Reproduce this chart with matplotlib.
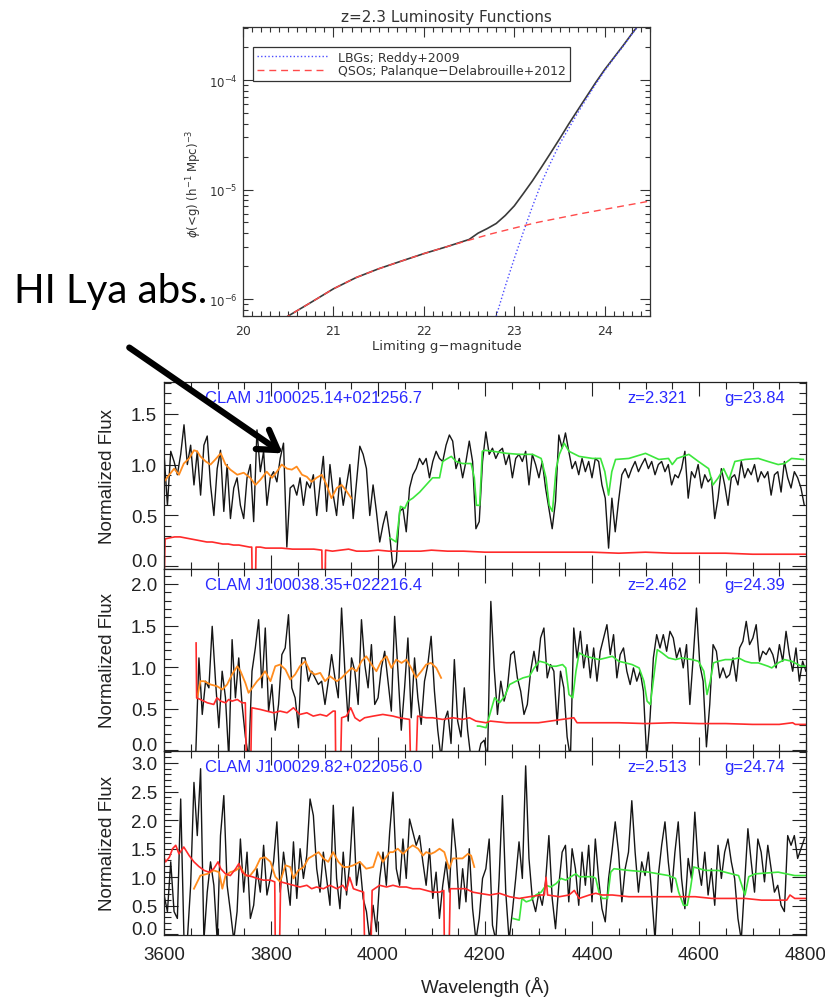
import numpy as np
import matplotlib
matplotlib.use("Agg")
import matplotlib.pyplot as plt
from matplotlib.patches import FancyArrowPatch
from matplotlib.ticker import MultipleLocator, LogLocator, NullFormatter, FormatStrFormatter

# ---------------- top panel: z=2.3 luminosity functions ----------------
MAG_QSO = [20.45, 20.5, 20.75, 21.0, 21.25, 21.5, 21.75, 22.0, 22.25, 22.5,
           22.75, 23.0, 23.25, 23.5, 23.75, 24.0, 24.25, 24.5]
PHI_QSO = [6.6e-7, 7.0e-7, 9.3e-7, 1.24e-6, 1.57e-6, 1.89e-6, 2.22e-6, 2.6e-6,
           3.0e-6, 3.45e-6, 3.95e-6, 4.45e-6, 5.0e-6, 5.5e-6, 6.05e-6, 6.6e-6,
           7.2e-6, 7.85e-6]

MAG_LBG = [22.78, 22.8, 22.9, 23.0, 23.1, 23.2, 23.3, 23.4, 23.5, 23.6, 23.7,
           23.8, 23.9, 24.0, 24.1, 24.2, 24.3, 24.4]
PHI_LBG = [6.5e-7, 7.0e-7, 1.31e-6, 2.35e-6, 4.1e-6, 7.0e-6, 1.15e-5, 1.75e-5,
           2.6e-5, 3.6e-5, 5.0e-5, 6.8e-5, 9.2e-5, 1.22e-4, 1.58e-4, 2.02e-4,
           2.62e-4, 3.37e-4]

MAG_TOT = [20.45, 20.5, 20.75, 21.0, 21.25, 21.5, 21.75, 22.0, 22.25, 22.5, 22.6,
           22.7, 22.8, 22.9, 23.0, 23.1, 23.2, 23.3, 23.4, 23.5, 23.6, 23.7, 23.8,
           23.9, 24.0, 24.1, 24.2, 24.3, 24.4]
PHI_TOT = [6.6e-7, 7.0e-7, 9.3e-7, 1.24e-6, 1.57e-6, 1.89e-6, 2.22e-6, 2.6e-6,
           3.0e-6, 3.5e-6, 4.0e-6, 4.4e-6, 4.9e-6, 5.8e-6, 7.1e-6, 9.2e-6, 1.2e-5,
           1.6e-5, 2.15e-5, 2.9e-5, 3.95e-5, 5.3e-5, 7.1e-5, 9.5e-5, 1.25e-4,
           1.6e-4, 2.05e-4, 2.65e-4, 3.4e-4]

# ---------------- spectra (black = observed, sampled every 6.2 A) ----------------
SPEC_STEP = 6.2

SPEC1_START = 3594.0
SPEC1_FLUX = [
    0.87, 1.10, 0.60, 1.13, 1.03, 0.90, 1.10, 1.39, 1.00, 1.19,
    0.80, 1.13, 0.70, 1.19, 1.28, 0.80, 0.50, 0.96, 1.14, 0.54,
    1.00, 0.47, 0.77, 0.87, 0.60, 0.47, 0.87, 1.00, 0.44, 1.34,
    0.93, 1.13, 0.60, 0.87, 0.93, 0.83, 1.06, 1.21, 0.19, 0.77,
    0.80, 0.70, 0.87, 0.60, 0.83, 0.77, 0.90, 0.50, 0.80, 1.08,
    0.54, 1.00, 0.70, 0.50, 0.87, 0.60, 0.80, 1.00, 0.47, 0.83,
    1.18, 1.10, 0.96, 0.50, 0.80, 0.54, 0.24, 0.41, 0.54, 0.31,
    -0.02, 0.05, 0.54, 0.57, 0.34, 0.77, 0.90, 0.96, 1.06, 1.00,
    1.06, 0.87, 1.03, 1.13, 1.06, 1.03, 1.19, 1.29, 1.23, 0.96,
    1.06, 0.87, 1.03, 1.23, 1.03, 0.37, 0.44, 1.03, 1.32,
    1.10, 1.16, 1.06, 1.13, 1.16, 1.00, 1.10, 0.87, 1.06, 1.10,
    1.03, 1.13, 0.80, 1.10, 1.00, 0.87, 1.03, 0.77, 0.57, 0.37,
    0.64, 1.29, 1.16, 1.31, 1.13, 0.96, 1.03, 0.90, 1.06, 0.93,
    1.03, 0.87, 1.06, 1.03, 0.80, 0.67, 0.18, 0.67, 0.34, 0.64,
    0.90, 0.96, 0.87, 0.96, 1.03, 0.93, 1.00, 1.06, 0.96, 1.03,
    0.90, 1.00, 1.03, 0.93, 1.00, 0.80, 0.90, 0.87, 0.96, 1.13,
    0.67, 0.93, 0.87, 1.00, 0.77, 0.90, 0.83, 0.87, 0.47, 0.67,
    0.96, 0.80, 0.60, 0.87, 0.90, 0.80, 1.03, 0.87, 0.96, 0.90,
    1.00, 0.83, 0.93, 0.87, 0.93, 0.70, 0.90, 0.93, 0.73, 1.03,
    0.87, 0.77, 0.93, 0.87, 0.77, 0.60,
]
ORANGE1_WL = [3600, 3610, 3619, 3628, 3637, 3647, 3656, 3662, 3668, 3678, 3687,
              3696, 3706, 3715, 3724, 3737, 3749, 3761, 3771, 3780, 3792, 3802,
              3811, 3820, 3830, 3839, 3848, 3858, 3867, 3876, 3885, 3895, 3904,
              3913, 3923, 3932, 3941, 3950]
ORANGE1_FLUX = [0.83, 0.90, 0.96, 0.90, 1.01, 1.06, 1.14, 1.13, 1.08, 1.03, 1.00,
                1.05, 1.11, 1.00, 0.95, 0.90, 0.92, 0.87, 0.80, 0.85, 0.93, 0.87,
                0.93, 1.00, 0.96, 0.95, 0.98, 0.90, 0.88, 0.83, 0.87, 0.90, 0.80,
                0.67, 0.77, 0.80, 0.74, 0.67]
GREEN1_WL = [4022, 4034, 4042, 4050, 4056, 4065, 4078, 4090, 4102, 4115, 4121,
             4127, 4137, 4146, 4158, 4174, 4180, 4184, 4190, 4195, 4199, 4215,
             4240, 4264, 4289, 4305, 4314, 4320, 4326, 4333, 4339, 4348, 4357,
             4376, 4401, 4416, 4424, 4431, 4437, 4444, 4469, 4500, 4525, 4543,
             4550, 4559, 4581, 4599, 4618, 4626, 4636, 4646, 4656, 4667, 4686,
             4711, 4729, 4748, 4760, 4773, 4795]
GREEN1_FLUX = [0.28, 0.24, 0.59, 0.57, 0.64, 0.67, 0.73, 0.80, 0.87, 0.87, 1.03,
               1.05, 1.08, 1.03, 1.01, 1.01, 0.87, 0.60, 0.60, 1.13, 1.14, 1.13,
               1.11, 1.10, 1.10, 1.06, 0.87, 0.60, 0.54, 0.96, 1.10, 1.21, 1.13,
               1.08, 1.06, 1.06, 0.93, 0.70, 0.93, 1.05, 1.06, 1.11, 1.05, 1.06,
               1.00, 1.06, 1.10, 1.03, 0.96, 0.80, 0.87, 0.96, 0.85, 1.03, 1.05,
               1.06, 1.03, 1.00, 1.01, 1.06, 1.05]
RED1_WL = [3600, 3602, 3610, 3620, 3630, 3640, 3650, 3660, 3670, 3680, 3690,
           3700, 3710, 3720, 3730, 3740, 3750, 3760, 3764, 3765, 3771, 3772,
           3780, 3790, 3800, 3820, 3840, 3860, 3880, 3895, 3896, 3901, 3902,
           3915, 3930, 3945, 3960, 3980, 4000, 4020, 4040, 4060, 4080, 4100,
           4130, 4160, 4200, 4250, 4300, 4350, 4400, 4450, 4500, 4550, 4600,
           4650, 4700, 4750, 4800]
RED1_FLUX = [-0.2, 0.27, 0.28, 0.29, 0.29, 0.28, 0.27, 0.26, 0.25, 0.24, 0.24,
             0.23, 0.22, 0.22, 0.21, 0.21, 0.20, 0.19, 0.19, -0.2, -0.2, 0.19,
             0.19, 0.18, 0.18, 0.18, 0.17, 0.17, 0.17, 0.16, -0.2, -0.2, 0.16,
             0.15, 0.16, 0.17, 0.15, 0.15, 0.16, 0.15, 0.15, 0.15, 0.15, 0.16,
             0.15, 0.15, 0.14, 0.14, 0.14, 0.14, 0.14, 0.13, 0.14, 0.13, 0.13,
             0.13, 0.12, 0.12, 0.12]

SPEC2_START = 3659.1
SPEC2_FLUX = [
    -0.10, 1.11, 0.43, 0.83, 0.75, 1.49, 0.83, 0.27, 0.95, 0.63,
    -0.10, 1.33, 0.63, 1.11, 0.55, 0.16, -0.10, 0.95, 1.23, 1.57,
    0.75, 1.47, 0.47, 0.79, 0.24, 0.55, 1.15, 1.23, 1.63, 0.75,
    0.63, 0.27, 1.11, 1.11, 0.83, 0.95, 0.87, 0.79, 0.83, 0.55,
    0.83, 1.15, 0.87, 0.63, 1.71, 0.95, 0.35, 1.11, 0.95, 0.55,
    1.57, 1.03, 0.75, 1.27, 0.55, 0.63, 0.99, 1.19, 0.83, 0.47,
    1.61, 0.95, 0.24, 0.75, 1.35, 0.39, 1.11, 0.63, 0.31, 0.83,
    1.03, 1.37, 0.71, 0.24, -0.10, 0.35, 0.47, 0.08, 1.09, 0.35,
    0.16, 0.75, 0.24, -0.10, -0.10, -0.10, 0.08, 0.12, -0.10,
    1.79, 0.99, 0.43, 0.83, 0.59, 0.75, 1.15, 1.19, 0.87, 0.71,
    0.43, 0.55, 0.95, 1.19, 0.95, 1.35, 1.47, 0.87, 1.03, 0.95,
    0.31, 0.95, 0.75, 0.16, -0.10, 1.47, 1.11, 1.43, 0.99, 1.27,
    0.87, 1.23, 0.83, 1.19, 1.35, 1.51, 1.15, 1.39, 0.87, 1.15,
    1.23, 0.95, 0.79, 0.99, 0.83, 0.95, 0.71, -0.10, 0.39, 1.11,
    1.39, 1.23, 1.39, 1.19, 1.43, 1.35, 1.11, 1.23, 0.99, 1.27,
    0.55, 1.11, 1.71, 1.03, 0.83, 0.04, 0.55, 1.27, 1.19, 0.87,
    0.99, 0.87, 0.91, 1.11, 0.83, 1.23, 1.31, 1.55, 1.27, 1.35,
    1.51, 1.07, 1.19, 1.15, 1.23, 1.15, 0.99, 1.27, 1.07, 1.43,
    1.15, 0.95, 1.23, 0.83, 1.07, 0.95,
]
ORANGE2_WL = [3662, 3668, 3675, 3687, 3699, 3709, 3718, 3727, 3737, 3743, 3752,
              3758, 3765, 3774, 3780, 3789, 3799, 3808, 3817, 3827, 3836, 3845,
              3854, 3864, 3873, 3882, 3892, 3901, 3910, 3923, 3932, 3941, 3951,
              3960, 3969, 3978, 3988, 3997, 4006, 4016, 4025, 4034, 4044, 4053,
              4062, 4071, 4081, 4090, 4099, 4109, 4118]
ORANGE2_FLUX = [0.63, 0.83, 0.83, 0.79, 0.77, 0.73, 0.79, 0.91, 1.01, 0.95, 0.81,
                0.69, 0.75, 0.83, 0.87, 0.95, 0.83, 1.01, 1.03, 0.97, 0.85, 0.91,
                1.01, 1.07, 0.95, 0.91, 0.93, 0.83, 0.89, 0.83, 0.87, 0.93, 0.99,
                0.95, 1.07, 1.13, 1.03, 0.95, 1.07, 1.13, 0.99, 1.09, 1.05, 1.09,
                0.99, 0.87, 0.95, 1.03, 1.05, 0.99, 0.87]
GREEN2_WL = [4186, 4190, 4202, 4209, 4218, 4227, 4237, 4246, 4258, 4271, 4283,
             4292, 4302, 4314, 4323, 4333, 4345, 4351, 4357, 4364, 4370, 4376,
             4388, 4401, 4413, 4426, 4438, 4450, 4463, 4475, 4488, 4497, 4503,
             4509, 4516, 4522, 4531, 4543, 4556, 4568, 4587, 4599, 4609, 4615,
             4621, 4627, 4636, 4649, 4661, 4674, 4686, 4698, 4711, 4729, 4736,
             4748, 4760, 4773, 4791, 4801]
GREEN2_FLUX = [0.29, 0.29, 0.27, 0.43, 0.63, 0.57, 0.65, 0.79, 0.83, 0.87, 0.89,
               0.99, 1.07, 1.05, 1.01, 1.01, 1.03, 0.99, 0.67, 0.63, 0.95, 1.17,
               1.13, 1.11, 1.09, 1.11, 1.13, 1.07, 1.05, 1.03, 0.99, 0.83, 0.59,
               0.55, 0.91, 1.21, 1.17, 1.11, 1.09, 1.11, 1.09, 1.07, 0.95, 0.67,
               0.83, 1.05, 1.07, 1.09, 1.09, 1.11, 1.07, 1.05, 1.05, 1.01, 0.99,
               1.05, 1.09, 1.07, 1.01, 1.01]
RED2_WL = [3660, 3661, 3668, 3681, 3693, 3699, 3706, 3715, 3721, 3727, 3737,
           3746, 3752, 3754, 3762, 3764, 3780, 3792, 3805, 3817, 3830, 3842,
           3854, 3867, 3879, 3892, 3904, 3916, 3920, 3921, 3930, 3932, 3941,
           3949, 3957, 3966, 3975, 3991, 4009, 4028, 4040, 4059, 4061, 4071,
           4074, 4090, 4102, 4121, 4140, 4158, 4171, 4183, 4202, 4210, 4240,
           4280, 4300, 4366, 4372, 4400, 4450, 4500, 4550, 4600, 4650, 4700,
           4750, 4775, 4780, 4800]
RED2_FLUX = [1.29, 0.63, 0.61, 0.57, 0.55, 0.63, 0.59, 0.57, 0.61, 0.59, 0.61,
             0.57, 0.57, -0.2, -0.2, 0.51, 0.49, 0.47, 0.45, 0.47, 0.45, 0.51,
             0.43, 0.45, 0.41, 0.43, 0.41, 0.47, 0.47, -0.2, -0.2, 0.39, 0.41,
             0.51, 0.39, 0.35, 0.39, 0.41, 0.43, 0.41, 0.39, 0.37, -0.2, -0.2,
             0.41, 0.39, 0.39, 0.37, 0.39, 0.37, 0.39, 0.35, 0.33, 0.35, 0.33,
             0.33, 0.33, 0.39, 0.33, 0.33, 0.33, 0.32, 0.33, 0.32, 0.32, 0.31,
             0.31, 0.33, 0.31, 0.31]

SPEC3_START = 3600.2
SPEC3_FLUX = [
    0.69, 0.40, 1.27, 0.40, 0.28, 2.37, -0.10, -0.10, 0.86, 2.66,
    1.73, 2.90, -0.10, 0.74, 1.27, 0.86, -0.10, 1.73, 2.43, 0.86,
    0.40, -0.10, 0.40, 1.67, 0.74, 1.44, 0.28, 0.51, 1.15, 0.74,
    1.56, 0.69, 0.98, 1.27, 1.97, 0.74, 1.44, 0.98, 0.51, 1.62,
    0.63, 1.50, 0.98, 1.38, 2.37, 2.08, 1.15, 0.74, 1.44, 0.98,
    0.51, 2.26, 0.98, 0.45, 1.44, 0.69, 1.27, 2.23, 0.86, 1.27,
    0.63, 0.40, -0.10, 0.51, 0.05, 0.98, 1.44, 0.86, 1.79, 2.49,
    1.15, 0.86, 1.67, 0.98, 2.02, 1.79, 1.56, 1.73, 1.27, 0.86,
    1.50, 0.63, 1.09, 0.28, 0.86, 1.27, 0.74, 2.02, 1.44, 0.45,
    1.15, 0.57, 1.50, 0.45, -0.10, 0.28, 0.98, 1.15,
    1.67, 0.16, -0.10, 0.98, 2.43, 0.74, -0.10, 0.40, 0.98, 1.62,
    0.98, 2.95, 1.33, 0.63, 0.40, 0.74, 0.51, 0.92, 1.73, 0.63,
    0.10, 0.86, 1.44, 1.56, 0.57, 1.50, 1.15, 0.51, 1.44, 0.86,
    1.56, 0.57, 1.67, 0.98, 0.45, 0.22, 0.98, 1.44, 1.97, 1.44,
    0.57, 1.15, 1.44, 2.34, 1.44, 0.74, 1.27, 1.03, 1.44, 0.69,
    -0.10, 1.03, 1.56, 1.97, 1.27, 0.74, 1.44, 1.97, 0.98, 0.45,
    1.33, 0.98, 2.14, 1.21, 0.86, 1.44, 0.69, 1.15, 0.51, 1.56,
    0.98, 1.44, 1.67, 1.27, 0.98, 0.28, -0.10, 0.86, 1.85, 1.27,
    0.74, 1.67, 1.44, 0.92, 1.56, 1.15, 0.74, 0.86, 0.51, 0.40,
    1.73, 1.56, 1.73, 1.33, 1.50, 1.67,
]
ORANGE3_WL = [3656, 3668, 3681, 3693, 3703, 3709, 3715, 3724, 3734, 3743, 3752,
              3761, 3771, 3780, 3789, 3799, 3808, 3817, 3827, 3836, 3842, 3851,
              3861, 3870, 3879, 3889, 3898, 3907, 3916, 3926, 3935, 3944, 3954,
              3966, 3978, 3991, 4000, 4009, 4022, 4028, 4037, 4047, 4056, 4065,
              4075, 4084, 4090, 4099, 4106, 4115, 4124, 4133, 4140, 4149, 4158,
              4168, 4174, 4180]
ORANGE3_FLUX = [0.80, 1.03, 1.06, 1.12, 1.09, 0.80, 1.03, 1.09, 1.12, 1.18, 1.03,
                1.03, 1.15, 1.33, 1.35, 1.27, 1.01, 0.92, 1.21, 1.18, 0.98, 1.12,
                1.18, 1.33, 1.38, 1.44, 1.33, 1.27, 1.44, 1.27, 1.18, 1.18, 1.21,
                1.27, 1.15, 1.18, 1.44, 1.27, 1.44, 1.44, 1.50, 1.41, 1.50, 1.56,
                1.50, 1.38, 1.44, 1.41, 1.44, 1.50, 1.44, 1.15, 1.33, 1.33, 1.33,
                1.41, 1.38, 1.18]
GREEN3_WL = [4252, 4264, 4269, 4277, 4286, 4295, 4305, 4314, 4323, 4333, 4342,
             4351, 4364, 4370, 4376, 4401, 4407, 4413, 4419, 4429, 4435, 4441,
             4469, 4506, 4543, 4556, 4562, 4571, 4578, 4584, 4590, 4612, 4636,
             4661, 4674, 4680, 4686, 4693, 4705, 4748, 4779, 4801]
GREEN3_FLUX = [0.28, 0.25, 0.63, 0.57, 0.60, 0.69, 0.74, 0.86, 0.83, 0.89, 0.98,
               0.95, 1.03, 1.06, 1.01, 1.01, 0.98, 0.74, 0.63, 0.63, 1.09, 1.15,
               1.12, 1.09, 1.03, 0.98, 0.74, 0.51, 0.51, 0.80, 1.18, 1.12, 1.12,
               1.06, 1.03, 0.86, 0.69, 1.01, 1.06, 1.09, 1.03, 1.03]
RED3_WL = [3600, 3603, 3610, 3616, 3622, 3628, 3637, 3647, 3656, 3665, 3675,
           3684, 3693, 3701, 3706, 3715, 3724, 3734, 3740, 3746, 3755, 3765,
           3774, 3786, 3799, 3807, 3808, 3816, 3818, 3830, 3842, 3854, 3867,
           3876, 3885, 3898, 3910, 3923, 3934, 3941, 3947, 3954, 3963, 3973,
           3975, 3987, 3989, 4003, 4016, 4028, 4040, 4053, 4065, 4078, 4090,
           4102, 4115, 4123, 4124, 4133, 4135, 4152, 4164, 4177, 4189, 4209,
           4227, 4246, 4264, 4283, 4305, 4311, 4314, 4317, 4339, 4357, 4367,
           4376, 4395, 4407, 4419, 4438, 4469, 4500, 4531, 4562, 4593, 4624,
           4655, 4686, 4717, 4748, 4764, 4770, 4779, 4801]
RED3_FLUX = [1.35, 1.27, 1.35, 1.50, 1.56, 1.41, 1.53, 1.38, 1.27, 1.19, 1.12,
             1.09, 1.15, 1.27, 1.15, 1.06, 1.03, 1.15, 1.24, 1.09, 1.03, 1.01,
             0.98, 0.95, 0.95, 0.92, -0.2, -0.2, 0.92, 0.89, 0.86, 0.83, 0.86,
             0.80, 0.83, 0.80, 0.86, 0.80, 0.86, 0.77, 1.00, 0.80, 0.77, 0.74,
             -0.2, -0.2, 0.77, 0.86, 0.83, 0.86, 0.83, 0.83, 0.80, 0.80, 0.77,
             0.74, 0.74, 0.77, -0.2, -0.2, 0.80, 0.80, 0.80, 0.74, 0.72, 0.69,
             0.72, 0.66, 0.63, 0.66, 0.69, 0.69, 1.00, 0.69, 0.66, 0.69, 0.77,
             0.63, 0.69, 0.72, 0.69, 0.69, 0.66, 0.66, 0.66, 0.66, 0.66, 0.63,
             0.63, 0.63, 0.60, 0.60, 0.60, 0.69, 0.63, 0.63]

NAMES = ["CLAM J100025.14+021256.7", "CLAM J100038.35+022216.4", "CLAM J100029.82+022056.0"]
REDSHIFTS = ["z=2.321", "z=2.462", "z=2.513"]
GMAGS = ["g=23.84", "g=24.39", "g=24.74"]
YLIMS = [(-0.025, 1.81), (-0.01, 2.18), (-0.01, 3.21)]

# ---------------- layout (pixel boxes of the 825x1003 picture) ----------------
W, H = 825, 1003


def box(left, top, right, bottom):
    return [left / W, 1 - bottom / H, (right - left) / W, (bottom - top) / H]


fig = plt.figure(figsize=(W / 100, H / 100), dpi=100)

# === top: luminosity functions (IDL-ish look) ===
idl_gray = "#333333"
ax0 = fig.add_axes(box(243, 28, 650, 317))
ax0.plot(MAG_TOT, PHI_TOT, color="#3a3a3a", lw=1.2)
ax0.plot(MAG_LBG, PHI_LBG, color="#4b4bff", ls=(0, (1, 1.6)), lw=1.0,
         label="LBGs; Reddy+2009")
ax0.plot(MAG_QSO, PHI_QSO, color="#ff4a4a", ls=(0, (5, 3.5)), lw=1.0,
         label="QSOs; Palanque\u2212Delabrouille+2012")
ax0.set_yscale("log")
ax0.set_xlim(20, 24.5)
ax0.set_ylim(7.0e-7, 3.05e-4)
ax0.xaxis.set_major_locator(MultipleLocator(1))
ax0.xaxis.set_minor_locator(MultipleLocator(0.1))
ax0.yaxis.set_major_locator(LogLocator(base=10))
ax0.yaxis.set_minor_locator(LogLocator(base=10, subs=np.arange(2, 10)))
ax0.yaxis.set_minor_formatter(NullFormatter())
ax0.tick_params(which="both", direction="in", top=True, right=True,
                colors=idl_gray, labelsize=9, width=0.8)
ax0.tick_params(which="major", length=7, pad=6)
ax0.tick_params(which="minor", length=3.5)
ax0.tick_params(axis="y", labelsize=8.5, pad=4)
for s in ax0.spines.values():
    s.set_color(idl_gray)
    s.set_linewidth(0.9)
ax0.set_title("z=2.3 Luminosity Functions", fontsize=11, color=idl_gray, pad=4)
ax0.set_xlabel("Limiting g\u2212magnitude", fontsize=9.5, color=idl_gray, labelpad=1)
ax0.set_ylabel(r"$\phi$(<g) (h$^{-1}$ Mpc)$^{-3}$", fontsize=8.5, color=idl_gray)
ax0.yaxis.set_label_coords(-0.095, 0.46)
leg = ax0.legend(loc="upper left", bbox_to_anchor=(0.0246, 0.931), borderaxespad=0,
                 fontsize=9, handlelength=5.6, handletextpad=0.9, labelspacing=0.05,
                 borderpad=0.3, fancybox=False, framealpha=1)
leg.get_frame().set_edgecolor(idl_gray)
leg.get_frame().set_linewidth(0.9)
for t in leg.get_texts():
    t.set_color(idl_gray)

# === bottom: three spectra ===
spectra = [
    (SPEC1_START, SPEC1_FLUX, ORANGE1_WL, ORANGE1_FLUX, GREEN1_WL, GREEN1_FLUX, RED1_WL, RED1_FLUX),
    (SPEC2_START, SPEC2_FLUX, ORANGE2_WL, ORANGE2_FLUX, GREEN2_WL, GREEN2_FLUX, RED2_WL, RED2_FLUX),
    (SPEC3_START, SPEC3_FLUX, ORANGE3_WL, ORANGE3_FLUX, GREEN3_WL, GREEN3_FLUX, RED3_WL, RED3_FLUX),
]
boxes = [box(164, 383, 806, 570), box(164, 570, 806, 752), box(164, 752, 806, 936)]
sans = ["Liberation Sans", "DejaVu Sans"]
blue = "#2a2aff"

for i, (start, flux, o_wl, o_fl, g_wl, g_fl, r_wl, r_fl) in enumerate(spectra):
    ax = fig.add_axes(boxes[i])
    wave = start + SPEC_STEP * np.arange(len(flux))
    ax.plot(wave, flux, color="#151515", lw=1.0)
    ax.plot(o_wl, o_fl, color="#ff8c1e", lw=1.3)
    ax.plot(g_wl, g_fl, color="#3ce63c", lw=1.2)
    ax.plot(r_wl, r_fl, color="#ff2a2a", lw=1.2)

    ax.set_xlim(3600, 4800)
    ax.set_ylim(*YLIMS[i])
    ax.xaxis.set_major_locator(MultipleLocator(200))
    ax.xaxis.set_minor_locator(MultipleLocator(50))
    ax.yaxis.set_major_locator(MultipleLocator(0.5))
    ax.yaxis.set_minor_locator(MultipleLocator(0.1))
    ax.yaxis.set_major_formatter(FormatStrFormatter("%.1f"))
    ax.tick_params(which="both", direction="in", top=True, right=True,
                   width=0.8, colors="#222222", labelsize=13.5, pad=5)
    ax.tick_params(which="major", length=10)
    ax.tick_params(which="minor", length=5)
    for lab in ax.get_xticklabels() + ax.get_yticklabels():
        lab.set_family(sans)
    # the 0.0 label sits on its tick (baseline), as in the original
    locs = ax.yaxis.get_majorticklocs()
    for loc, tick in zip(locs, ax.yaxis.get_major_ticks(len(locs))):
        if abs(loc) < 1e-9:
            tick.label1.set_verticalalignment("baseline")
    for s in ax.spines.values():
        s.set_linewidth(0.9)
        s.set_color("#222222")
    if i < 2:
        ax.tick_params(labelbottom=False)
    else:
        ax.tick_params(axis="x", pad=8)
        ax.set_xlabel("Wavelength (\u00c5)", fontsize=13.5, family=sans,
                      color="#222222", labelpad=9)
    ax.set_ylabel("Normalized Flux", fontsize=13.5, family=sans, color="#222222")
    ax.yaxis.set_label_coords(-0.075, 0.5)

    kw = dict(xycoords="axes fraction", textcoords="offset points", va="center",
              fontsize=12, color=blue, family=sans)
    ax.annotate(NAMES[i], xy=(0.064, 1), xytext=(0, -11), ha="left", **kw)
    ax.annotate(REDSHIFTS[i], xy=(0.815, 1), xytext=(0, -11), ha="right", **kw)
    ax.annotate(GMAGS[i], xy=(0.967, 1), xytext=(0, -11), ha="right", **kw)

# === annotation: HI Lya absorption ===
fig.text(14 / W, 1 - 303 / H, "HI Lya abs.", fontsize=29, family=["Lato", "DejaVu Sans"],
         ha="left", va="baseline", color="black")
arrow = FancyArrowPatch((127 / W, 1 - 347 / H), (285 / W, 1 - 456 / H),
                        transform=fig.transFigure,
                        arrowstyle="->,head_length=0.45,head_width=0.28",
                        mutation_scale=30, lw=4.5, color="black")
fig.add_artist(arrow)

fig.savefig("out.png", dpi=100)
